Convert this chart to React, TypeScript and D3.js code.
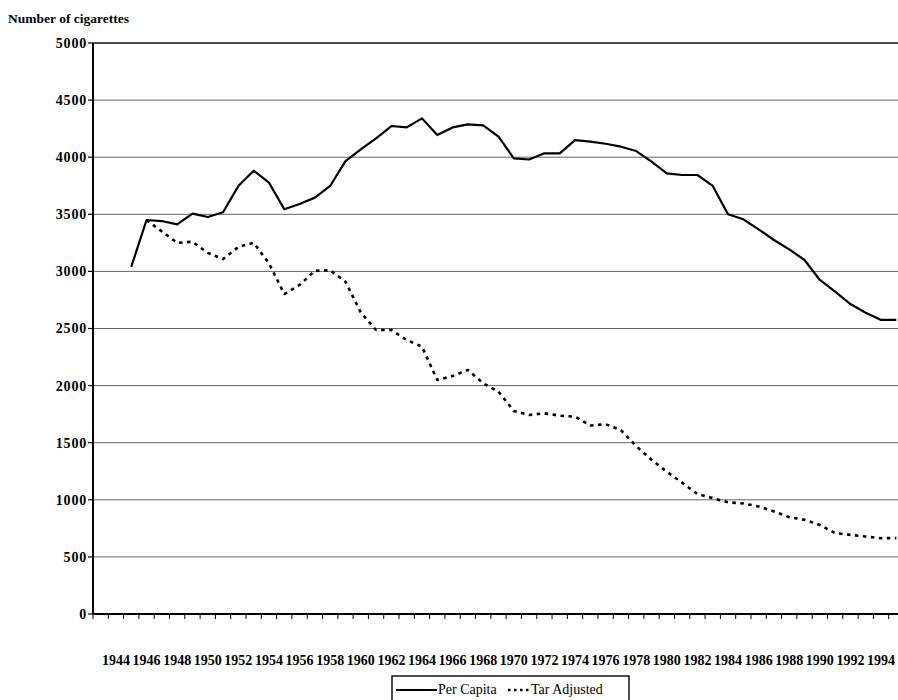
import React from 'react';
import * as d3 from 'd3';

// categories on the axis start two years before the data
const categories = d3.range(1942, 1995);
const years = d3.range(1944, 1995);
const tickLabelYears = d3.range(1944, 1995, 2);
const yTicks = d3.range(0, 5001, 500);

const perCapita = [
  3040, 3450, 3441, 3412, 3506, 3476, 3518, 3748, 3882, 3777,
  3544, 3590, 3646, 3748, 3965, 4068, 4165, 4273, 4261, 4340,
  4194, 4261, 4287, 4278, 4180, 3990, 3980, 4034, 4034, 4150,
  4136, 4118, 4092, 4054, 3961, 3859, 3844, 3844, 3748, 3500,
  3456, 3368, 3275, 3193, 3100, 2925, 2822, 2714, 2638, 2575,
  2575
];

const tarYears = d3.range(1945, 1995);
const tarAdjusted = [
  3449, 3350, 3250, 3260, 3162, 3108, 3215, 3250, 3071, 2802,
  2881, 3006, 3010, 2910, 2640, 2487, 2487, 2399, 2341, 2049,
  2084, 2137, 2020, 1947, 1778, 1743, 1757, 1737, 1728, 1650,
  1662, 1610, 1470, 1350, 1246, 1150, 1050, 1015, 978, 968,
  942, 898, 848, 825, 780, 708, 693, 678, 664, 664
];

const W = 898;
const H = 700;
const margin = { top: 43, left: 93, bottom: 614, right: 904 };
const font = '"Liberation Serif", "Times New Roman", serif';

const App: React.FC = () => {
  const x = d3.scaleBand<number>()
    .domain(categories)
    .range([margin.left, margin.right])
    .padding(0);
  const bw = x.bandwidth();
  const cx = (yr: number) => (x(yr) as number) + bw / 2;

  const y = d3.scaleLinear()
    .domain([0, 5000])
    .range([margin.bottom, margin.top]);

  const line = d3.line<[number, number]>()
    .x(d => cx(d[0]))
    .y(d => y(d[1]));

  const perPts = years.map((yr, i) => [yr, perCapita[i]] as [number, number]);
  const tarPts = tarYears.map((yr, i) => [yr, tarAdjusted[i]] as [number, number]);

  const boundaries = d3.range(categories.length + 1).map(i => margin.left + i * bw);

  return (
    <svg
      width={W}
      height={H}
      style={{ position: 'absolute', left: 0, top: 0, display: 'block', background: '#fff' }}
      fontFamily={font}
    >
      <text x={8} y={23} fontSize={13.5} fontWeight="bold">Number of cigarettes</text>

      {/* gridlines */}
      {yTicks.filter(t => t > 0).map(t => (
        <line
          key={t}
          x1={margin.left}
          x2={W}
          y1={y(t)}
          y2={y(t)}
          stroke={t === 5000 ? '#111' : '#666'}
          strokeWidth={t === 5000 ? 1.6 : 1}
        />
      ))}

      {/* y axis */}
      <line x1={margin.left} x2={margin.left} y1={margin.top} y2={margin.bottom} stroke="#000" strokeWidth={2} />
      {yTicks.map(t => (
        <g key={t}>
          <line x1={margin.left - 5} x2={margin.left} y1={y(t)} y2={y(t)} stroke="#000" strokeWidth={1.2} />
          <text
            x={87}
            y={y(t)}
            dy="0.35em"
            textAnchor="end"
            fontSize={14}
            fontWeight="bold"
            letterSpacing={0.8}
          >
            {t}
          </text>
        </g>
      ))}

      {/* x axis */}
      <line x1={margin.left} x2={W} y1={margin.bottom} y2={margin.bottom} stroke="#000" strokeWidth={2} />
      {boundaries.map((bx, i) => (
        <line key={i} x1={bx} x2={bx} y1={margin.bottom} y2={margin.bottom + 5} stroke="#000" strokeWidth={1} />
      ))}
      {tickLabelYears.map(yr => (
        <text key={yr} x={cx(yr - 1)} y={665} textAnchor="middle" fontSize={14} fontWeight="bold">
          {yr}
        </text>
      ))}

      {/* series */}
      <path d={line(perPts) || ''} fill="none" stroke="#000" strokeWidth={2.2} strokeLinejoin="round" />
      <path
        d={line(tarPts) || ''}
        fill="none"
        stroke="#000"
        strokeWidth={2.6}
        strokeDasharray="3.5,4.5"
        strokeLinejoin="round"
      />

      {/* legend */}
      <rect x={392} y={676} width={237} height={40} fill="#fff" stroke="#000" strokeWidth={1.4} />
      <line x1={396} x2={437} y1={690} y2={690} stroke="#000" strokeWidth={2} />
      <text x={438} y={694} fontSize={14}>Per Capita</text>
      <line x1={508} x2={530} y1={690} y2={690} stroke="#000" strokeWidth={2.4} strokeDasharray="2.5,3.5" />
      <text x={531} y={694} fontSize={14}>Tar Adjusted</text>
    </svg>
  );
};

export default App;
